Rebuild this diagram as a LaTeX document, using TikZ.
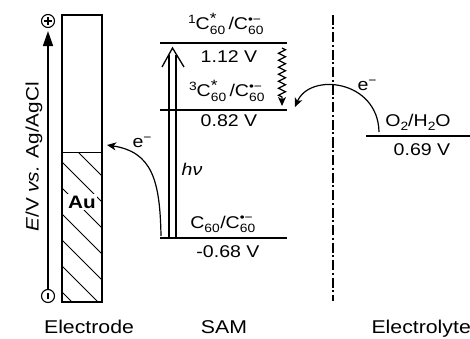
\documentclass[tikz,border=0pt]{standalone}
\usepackage{fontspec}
\setmainfont[FakeStretch=1.15]{Liberation Sans}
\usetikzlibrary{arrows.meta,positioning,calc,decorations.pathmorphing}

% small sans sub/superscripts
\newcommand\smalltxt[1]{\mbox{\fontsize{12}{13}\selectfont #1}}
\newcommand\cso[1]{C\ensuremath{_{\smalltxt{60}}^{\smalltxt{#1}}}}
\newcommand\strs{\fontsize{15}{15}\selectfont *}

\begin{document}
\begin{tikzpicture}[x=1pt,y=-1pt,font=\fontsize{17}{20}\selectfont,
    level/.style={line width=2pt},
    etrans/.style={line width=1.2pt,-{Stealth[length=9pt,width=8pt,inset=2.5pt]}},
    sign/.style={circle,draw,line width=1.1pt,minimum size=13pt,inner sep=0pt},
    hdr/.style={font=\fontsize{18.5}{22}\selectfont,anchor=base}]
  \useasboundingbox (0,0) rectangle (470,339);
  % electrode
  \draw[line width=1.2pt] (62,15) rectangle (102,302);
  \draw[line width=1pt] (62,152) -- (102,152);
  \begin{scope}
    \clip (62,152) rectangle (102,302);
    \foreach \c in {136,162,...,318}{\draw[line width=1pt] (62,\c) -- ++(45,45);}
  \end{scope}
  \node[fill=white,inner sep=1.5pt,font=\fontsize{18}{20}\selectfont\bfseries] (au) at (82,202) {Au};
  % potential axis
  \node[sign] (plus) at (48,21) {};
  \draw[line width=1.1pt] (plus.center) +(-3.8,0) -- +(3.8,0) (plus.center) +(0,-3.8) -- +(0,3.8);
  \node[sign] (minus) at (48,296) {};
  \draw[line width=1.1pt] (minus.center) +(0,-3) -- +(0,3);
  \draw[line width=1.6pt,shorten >=3pt,-{Triangle[length=15pt,width=10pt]}] (minus) -- (plus);
  \node[rotate=90,font=\fontsize{18}{22}\selectfont] (axlabel) at (34,157) {\textit{E}/V \textit{vs.} Ag/AgCl};
  % SAM levels
  \coordinate (s1w) at (160,43);  \coordinate (s1e) at (287,43);
  \coordinate (t1w) at (160,110); \coordinate (t1e) at (287,110);
  \coordinate (g0w) at (160,238); \coordinate (g0e) at (287,238);
  \draw[level] (s1w) -- (s1e) (t1w) -- (t1e) (g0w) -- (g0e);
  \node[anchor=base] (s1lab) at (226,30) {\smalltxt{\raisebox{6pt}{1}}\cso{\strs}\,/\cso{\textbullet−}};
  \node[anchor=base] (s1pot) at (229,63) {1.12 V};
  \node[anchor=base] (t1lab) at (227,97) {\smalltxt{\raisebox{6pt}{3}}\cso{\strs}\,/\cso{\textbullet−}};
  \node[anchor=base] (t1pot) at (229,127) {0.82 V};
  \node[anchor=base] (g0lab) at (223,228) {\cso{}/\cso{\textbullet−}};
  \node[anchor=base] (g0pot) at (228,257) {-0.68 V};
  % excitation
  \draw[line width=1.3pt] (169,238) -- (169,55) (176,238) -- (176,55);
  \draw[line width=1.3pt] (162,67) -- (172.5,48) -- (184,67);
  \node[anchor=base] (hnu) at (192,175) {\textit{hν}};
  % intersystem crossing
  \draw[line width=1.2pt,decorate,decoration={zigzag,amplitude=3.5pt,segment length=7pt,post length=9pt},
    -{Stealth[length=9pt,width=8pt,inset=2.5pt]}] (282,48) -- (282,106);
  % electrolyte
  \draw[line width=1.6pt,dash pattern=on 10pt off 2.5pt on 2pt off 3pt] (333,15) -- (333,301);
  \coordinate (oxw) at (366,136); \coordinate (oxe) at (470,136);
  \draw[level] (oxw) -- (oxe);
  \node[anchor=base] (oxlab) at (418,127) {O\smalltxt{\raisebox{-4pt}{2}}/H\smalltxt{\raisebox{-4pt}{2}}O};
  \node[anchor=base] (oxpot) at (422,155) {0.69 V};
  % electron transfer
  \draw[etrans] (379,132) .. controls (378,80) and (310,72) .. (295,107);
  \node[anchor=base] (e1) at (367,91) {e\smalltxt{\raisebox{6pt}{−}}};
  \draw[etrans] (161,236) .. controls (160,180) and (152,152) .. (107,145);
  \node[anchor=base] (e2) at (142,147) {e\smalltxt{\raisebox{6pt}{−}}};
  % headers
  \node[hdr] (elec) at (89,333) {Electrode};
  \node[hdr] (sam) at (224,333) {SAM};
  \node[hdr,anchor=base west] (elyt) at (368,333) {Electrolyte};
\end{tikzpicture}
\end{document}
